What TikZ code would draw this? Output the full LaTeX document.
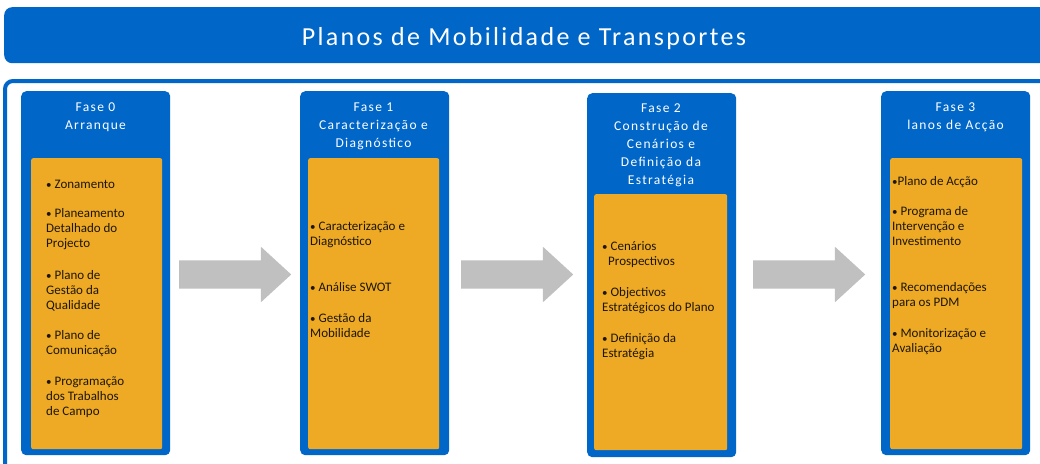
\documentclass[tikz,border=0pt]{standalone}
\usepackage{fontspec}
\setmainfont{Carlito}
\newfontfamily\titlefont[LetterSpace=9]{Carlito}
\newfontfamily\hdrfont[LetterSpace=10]{Carlito}
\usetikzlibrary{shapes.arrows}
\definecolor{pblue}{RGB}{0,102,200}
\definecolor{porange}{RGB}{238,170,36}
\definecolor{pgray}{RGB}{192,192,192}
\definecolor{ptext}{RGB}{30,22,10}
\newcommand\bul{{\fontsize{11}{11}\selectfont •}}
\begin{document}
\begin{tikzpicture}[x=1pt,y=-1pt,
  colbox/.style={fill=pblue, rounded corners=5pt, anchor=north west, inner sep=0pt, minimum width=149pt, minimum height=364pt},
  obox/.style={fill=porange, rounded corners=2pt, anchor=north west, inner sep=0pt, minimum width=131pt},
  garrow/.style={single arrow, fill=pgray, draw=none, inner xsep=0pt, inner ysep=14pt, text height=0pt, text depth=0pt, minimum height=112pt, single arrow head extend=13.5pt, single arrow tip angle=85, anchor=tail},
  hdr/.style={text=white, align=center, anchor=north, inner sep=0pt, font=\hdrfont\fontsize{13.5}{18}\selectfont},
  item/.style={text=ptext, align=left, anchor=north west, inner sep=0pt, font=\fontsize{13}{15}\selectfont}
]
\useasboundingbox (0,0) rectangle (1040,463);
\fill[white] (0,0) rectangle (1040,463);
% title bar
\node[fill=pblue, rounded corners=8pt, anchor=north west, inner sep=0pt, minimum width=1050pt, minimum height=56pt] (titlebar) at (4,7) {};
\node[text=white, anchor=base, inner sep=0pt, font=\titlefont\fontsize{26}{30}\selectfont] (title) at (524,45) {Planos de Mobilidade e Transportes};
% outer frame
\draw[pblue, line width=4pt, rounded corners=8pt] (1050,81) -- (5,81) -- (5,475);
% phase columns
\node[colbox] (c0) at (21,91) {};
\node[colbox] (c1) at (300,91) {};
\node[colbox] (c2) at (587,93) {};
\node[colbox] (c3) at (881,91) {};
% orange boxes
\node[obox, minimum height=291pt] (o0) at (31,158) {};
\node[obox, minimum height=291pt] (o1) at (308,158) {};
\node[obox, minimum height=256pt, minimum width=133pt] (o2) at (594,194) {};
\node[obox, minimum height=291pt, minimum width=132pt] (o3) at (890,158) {};
% arrows
\node[garrow] (a01) at (179,274.5) {};
\node[garrow] (a12) at (461,274.5) {};
\node[garrow] (a23) at (753,274.5) {};
% headers
\node[hdr] (h0) at (95.5,98.4) {\strut Fase 0\\Arranque};
\node[hdr] (h1) at (373.5,98.4) {\strut Fase 1\\Caracterização e\\Diagnóstico};
\node[hdr] (h2) at (661,99.4) {\strut Fase 2\\Construção de\\Cenários e\\Definição da\\Estratégia};
\node[hdr] (h3) at (955.5,98.4) {\strut Fase 3\\lanos de Acção};
% items phase 0
\node[item] (i01) at (46,177.5) {\strut \bul\ Zonamento};
\node[item] (i02) at (46,206.5) {\strut \bul\ Planeamento\\Detalhado do\\Projecto};
\node[item] (i03) at (46,268.5) {\strut \bul\ Plano de\\Gestão da\\Qualidade};
\node[item] (i04) at (46,328.5) {\strut \bul\ Plano de\\Comunicação};
\node[item] (i05) at (46,374.5) {\strut \bul\ Programação\\dos Trabalhos\\de Campo};
% items phase 1
\node[item] (i11) at (310,219.5) {\strut \bul\ Caracterização e\\Diagnóstico};
\node[item] (i12) at (310,280.5) {\strut \bul\ Análise SWOT};
\node[item] (i13) at (310,311.5) {\strut \bul\ Gestão da\\Mobilidade};
% items phase 2
\node[item] (i21) at (602,239.5) {\strut \bul\ Cenários\\\hspace*{6pt}Prospectivos};
\node[item] (i22) at (602,285.5) {\strut \bul\ Objectivos\\Estratégicos do Plano};
\node[item] (i23) at (602,331.5) {\strut \bul\ Definição da\\Estratégia};
% items phase 3
\node[item] (i31) at (892,174.5) {\strut \bul Plano de Acção};
\node[item] (i32) at (892,204.5) {\strut \bul\ Programa de\\Intervenção e\\Investimento};
\node[item] (i33) at (892,280.5) {\strut \bul\ Recomendações\\para os PDM};
\node[item] (i34) at (892,326.5) {\strut \bul\ Monitorização e\\Avaliação};
\end{tikzpicture}
\end{document}
